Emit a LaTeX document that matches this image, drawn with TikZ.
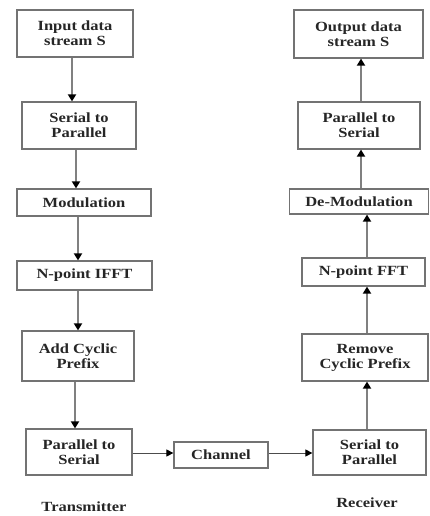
\documentclass[tikz,border=0pt]{standalone}
\usepackage{fontspec}
\setmainfont{Liberation Serif}[FakeStretch=1.18]
\usetikzlibrary{arrows.meta}
\begin{document}
\begin{tikzpicture}[x=1pt,y=-1pt,
  blk/.style={draw=black!55,line width=1.2pt,fill=white,inner sep=0pt,align=center,
    font=\fontsize{14}{15}\selectfont\bfseries,text=black!85},
  varr/.style={draw=black!50,line width=1.8pt,-{Triangle[width=8pt,length=7pt,color=black]}},
  harr/.style={draw=black!70,line width=0.9pt,-{Triangle[width=7pt,length=7pt,color=black]}},
  lbl/.style={font=\fontsize{14}{15}\selectfont\bfseries,text=black!85,inner sep=0pt}]
\useasboundingbox (0,0) rectangle (430,516);
% transmitter
\node[blk,minimum width=116pt,minimum height=47pt] (in) at (75,33.5) {Input data\\stream S};
\node[blk,minimum width=114pt,minimum height=47pt] (s2p) at (79,125.5) {Serial to\\Parallel};
\node[blk,minimum width=134pt,minimum height=27pt] (mod) at (84,202.5) {Modulation};
\node[blk,minimum width=135pt,minimum height=29pt] (ifft) at (84.5,275.5) {N-point IFFT};
\node[blk,minimum width=112pt,minimum height=50pt] (cp) at (78,356) {Add Cyclic\\Prefix};
\node[blk,minimum width=106pt,minimum height=46pt] (p2s) at (79,452) {Parallel to\\Serial};
\node[blk,minimum width=94pt,minimum height=26pt] (ch) at (221,455) {Channel};
% receiver
\node[blk,minimum width=129pt,minimum height=48pt] (out) at (358.5,34) {Output data\\stream S};
\node[blk,minimum width=122pt,minimum height=47pt] (rp2s) at (359,125.5) {Parallel to\\Serial};
\node[blk,minimum width=139pt,minimum height=25pt] (demod) at (359,201.5) {De-Modulation};
\node[blk,minimum width=123pt,minimum height=28pt] (fft) at (363.5,272) {N-point FFT};
\node[blk,minimum width=126pt,minimum height=47pt] (rcp) at (365,357.5) {Remove\\Cyclic Prefix};
\node[blk,minimum width=113pt,minimum height=45pt] (rs2p) at (369.5,452.5) {Serial to\\Parallel};
% labels
\node[lbl] (tx) at (84,507) {Transmitter};
\node[lbl] (rx) at (367,503) {Receiver};
% arrows transmitter
\draw[varr] (in.south -| 72,0) -- (s2p.north -| 72,0);
\draw[varr] (s2p.south -| 76,0) -- (mod.north -| 76,0);
\draw[varr] (mod.south -| 78,0) -- (ifft.north -| 78,0);
\draw[varr] (ifft.south -| 78,0) -- (cp.north -| 78,0);
\draw[varr] (cp.south -| 75,0) -- (p2s.north -| 75,0);
% horizontal
\draw[harr] (p2s.east |- 0,453) -- (ch.west |- 0,453);
\draw[harr] (ch.east |- 0,453) -- (rs2p.west |- 0,453);
% arrows receiver
\draw[varr] (rs2p.north -| 367,0) -- (rcp.south -| 367,0);
\draw[varr] (rcp.north -| 367,0) -- (fft.south -| 367,0);
\draw[varr] (fft.north -| 367,0) -- (demod.south -| 367,0);
\draw[varr] (demod.north -| 361,0) -- (rp2s.south -| 361,0);
\draw[varr] (rp2s.north -| 361,0) -- (out.south -| 361,0);
\end{tikzpicture}
\end{document}
